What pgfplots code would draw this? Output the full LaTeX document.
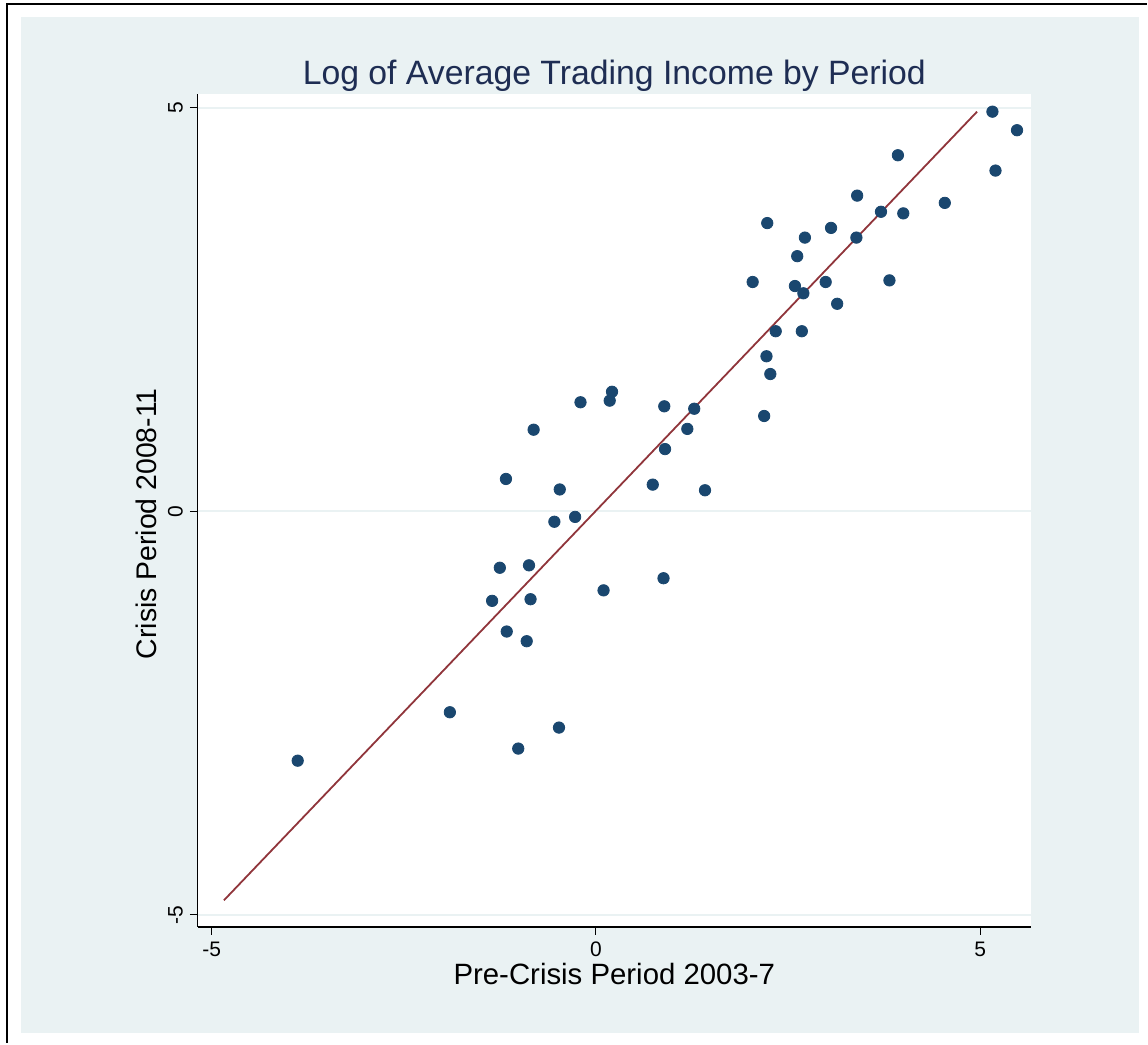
\documentclass[border=0pt]{standalone}
\usepackage{pgfplots}
\pgfplotsset{compat=1.18}
\usepackage{fontspec}
\setmainfont{Liberation Sans}
\definecolor{bgcol}{RGB}{234,242,243}
\definecolor{dotcol}{RGB}{26,71,111}
\definecolor{linecol}{RGB}{144,53,59}
\definecolor{titlecol}{RGB}{30,45,83}
\begin{document}
\begin{tikzpicture}
% canvas 1148 x 1044 px, 1px = 0.5pt, origin at top-left
\path (0pt,0pt) rectangle (574pt,-522pt);
\fill[bgcol] (10.5pt,-8.5pt) rectangle (570pt,-517pt);
\draw[line width=1.3pt, black] (3.5pt,-522pt) -- (3.5pt,-2pt) -- (574pt,-2pt);
\begin{axis}[
  at={(99pt,-464pt)}, anchor=south west,
  scale only axis, width=417pt, height=417pt,
  xmin=-5.18, xmax=5.66, ymin=-5.15, ymax=5.17,
  axis lines*=left,
  axis line style={-, line width=0.7pt, black},
  axis background/.style={fill=white},
  xtick={-5,0,5}, ytick={-5,0,5},
  xticklabels={-5,0,5}, yticklabels={-5,0,5},
  tick align=outside, major tick length=4pt,
  tick style={line width=0.6pt, black},
  ymajorgrids, xmajorgrids=false,
  major grid style={line width=1.1pt, bgcol},
  ticklabel style={font=\fontsize{10.5}{12}\selectfont},
  yticklabel style={rotate=90, anchor=south},
  xticklabel style={anchor=north},
  xlabel={Pre-Crisis Period 2003-7},
  ylabel={Crisis Period 2008-11},
  xlabel style={font=\fontsize{14.7}{16}\selectfont, at={(axis description cs:0.5,-0.0695)}, anchor=base},
  ylabel style={font=\fontsize{14.2}{16}\selectfont, at={(axis description cs:-0.049,0.484)}, anchor=base, rotate=0},
  clip=false,
]
\addplot[only marks, mark=*, mark size=2.85pt, draw=dotcol, fill=dotcol] coordinates {
(5.16,4.95) (5.48,4.72) (3.93,4.41) (5.20,4.22) (3.40,3.91)
(4.54,3.82) (3.71,3.71) (4.00,3.69) (2.23,3.57) (3.06,3.51)
(2.72,3.39) (3.39,3.39) (2.62,3.16) (2.04,2.84) (2.59,2.79)
(2.99,2.84) (3.82,2.86) (2.70,2.70) (3.14,2.57) (2.34,2.23)
(2.68,2.23) (2.22,1.92) (2.27,1.70) (0.21,1.48) (0.18,1.37)
(-0.20,1.35) (0.89,1.30) (1.28,1.27) (2.19,1.18) (-0.81,1.01)
(1.19,1.02) (0.90,0.77) (-1.17,0.40) (0.74,0.33) (-0.47,0.27)
(1.42,0.26) (-0.54,-0.13) (-0.27,-0.07) (-1.25,-0.70) (-0.87,-0.67)
(-1.35,-1.11) (-0.85,-1.09) (0.88,-0.83) (0.10,-0.98) (-1.16,-1.49)
(-0.90,-1.61) (-1.90,-2.49) (-0.48,-2.68) (-1.01,-2.94) (-3.88,-3.09)
};
\addplot[linecol, line width=0.9pt] coordinates {(-4.84,-4.82) (4.96,4.95)};
\end{axis}
\node[anchor=base, text=titlecol, font=\fontsize{16.9}{19}\selectfont] at (307.5pt,-42.5pt) {Log of Average Trading Income by Period};
\end{tikzpicture}
\end{document}
